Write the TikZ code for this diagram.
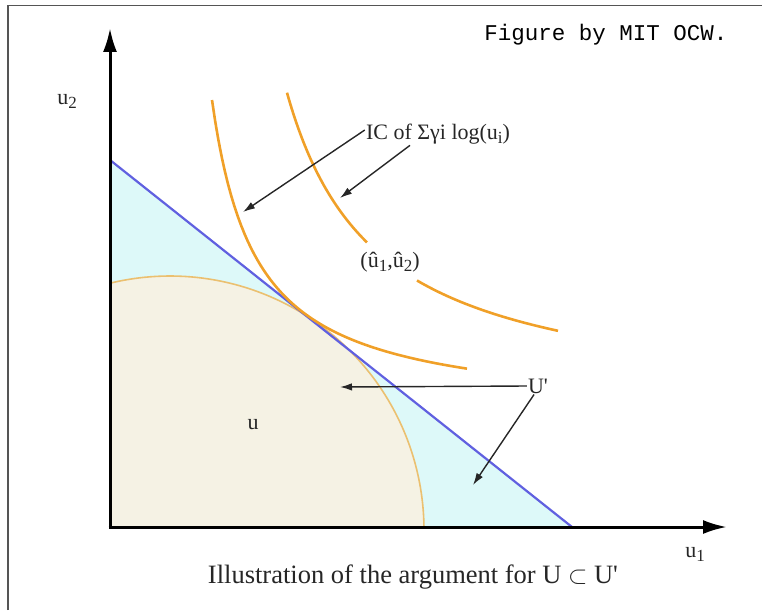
\documentclass[tikz,border=0pt]{standalone}
\usepackage{fontspec}
\setmainfont{Liberation Serif}
\newfontfamily\monofont{Liberation Mono}
\usetikzlibrary{arrows.meta}
\definecolor{cyanfill}{HTML}{DDF9F9}
\definecolor{beigefill}{HTML}{F5F2E4}
\definecolor{budget}{HTML}{6060E0}
\definecolor{icorange}{HTML}{F0A028}
\definecolor{arcorange}{HTML}{EBC070}
\definecolor{framegray}{HTML}{555555}
\newcommand\lowr[1]{\raisebox{-0.4ex}{\fontsize{17}{18}\selectfont #1}}
\tikzset{
  lab/.style={inner sep=1pt, font=\fontsize{22}{24}\selectfont, text=black!85},
  axisline/.style={line width=3pt, -{Latex[length=24pt,width=14pt]}},
  pointer/.style={line width=1.4pt, draw=black!85, -{Latex[length=12pt,width=7.5pt]}},
  icurve/.style={line width=2.6pt, icorange},
}
\begin{document}
\begin{tikzpicture}[x=1pt,y=-1pt]
\useasboundingbox (0,0) rectangle (762,610);
% frame
\draw[framegray, line width=1.5pt] (8,610) -- (8,5.5) -- (762,5.5);
% regions
\coordinate (O) at (110,527);
\coordinate (Btop) at (110,160);
\coordinate (Bbot) at (572,527);
\fill[cyanfill] (Btop) -- (Bbot) -- (O) -- cycle;
\fill[beigefill] (O) -- plot[domain=103.66:0.68, samples=80] ({170+254*cos(\x)}, {530-254*sin(\x)}) -- cycle;
\draw[arcorange, line width=1.6pt] plot[domain=103.66:0.68, samples=80] ({170+254*cos(\x)}, {530-254*sin(\x)});
\draw[budget, line width=2.2pt] (Btop) -- (Bbot);
% indifference curves
\draw[icurve] plot[domain=212:467, samples=80] (\x, {415-138.6*(100/(\x-168))});
\draw[icurve] plot[domain=287:367, samples=50] (\x, {409-281.5*(100/(\x-198))});
\draw[icurve] plot[domain=417:558, samples=50] (\x, {409-281.5*(100/(\x-198))});
% axes
\coordinate (Ytip) at (110,28);
\coordinate (Xtip) at (727,527);
\draw[axisline] ([yshift=1.5pt]O) -- (Ytip);
\draw[axisline] ([xshift=-1.5pt]O) -- (Xtip);
% labels
\node[lab] (u2) at (67,101) {u\lowr{2}};
\node[lab] (u1) at (695,554) {u\lowr{1}};
\node[lab] (IC) at (438,134) {IC of Σγi log(u\lowr{i})};
\node[lab] (uhat) at (390,262) {(\^u\lowr{1},\^u\lowr{2})};
\node[lab] (Up) at (538,386) {U\textquotesingle};
\node[lab] (uset) at (253,425) {u};
\node[inner sep=0pt, font=\fontsize{26.5}{30}\selectfont, text=black!85] (cap) at (413,577) {Illustration of the argument for U $\subset$ U\textquotesingle};
\node[inner sep=0pt, font=\monofont\fontsize{22.5}{26}\selectfont] (fig) at (606,35) {Figure by MIT OCW.};
% pointers
\coordinate (t1) at (243,212);
\coordinate (t2) at (340,198);
\coordinate (t3) at (340,387);
\coordinate (t4) at (473,485);
\draw[pointer] ([yshift=4pt]IC.west) -- (t1);
\draw[pointer] ([xshift=-28pt]IC.south) -- (t2);
\draw[pointer] (Up.west) -- (t3);
\draw[pointer] (Up.245) -- (t4);
\end{tikzpicture}
\end{document}
